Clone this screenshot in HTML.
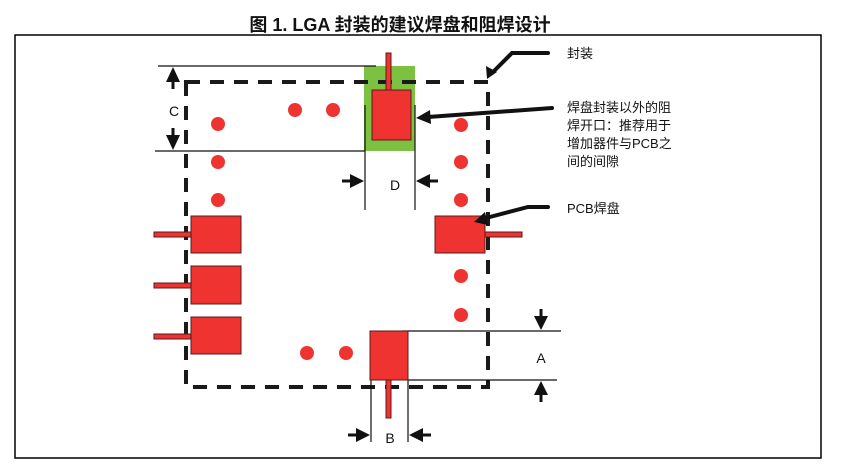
<!DOCTYPE html>
<html><head><meta charset="utf-8"><style>
html,body{margin:0;padding:0;background:#fff;}
svg{display:block;}
text{font-family:"Liberation Sans","Noto Sans CJK SC",sans-serif;}
</style></head><body>
<svg width="847" height="472" viewBox="0 0 847 472" xmlns="http://www.w3.org/2000/svg">
<text x="400" y="31" text-anchor="middle" font-size="18" font-weight="bold" fill="#111">图 1. LGA 封装的建议焊盘和阻焊设计</text>
<rect x="15" y="35" width="806" height="423" fill="none" stroke="#000" stroke-width="1.5"/>
<rect x="364" y="66" width="51" height="85" fill="#7cc142"/>
<rect x="186" y="82" width="302" height="305" fill="none" stroke="#1a1a1a" stroke-width="4" stroke-dasharray="14,10"/>
<g stroke="#111" stroke-width="1.2">
<line x1="158" y1="66" x2="376" y2="66"/>
<line x1="155" y1="151" x2="365" y2="151"/>
<line x1="365" y1="105" x2="365" y2="210"/>
<line x1="415" y1="105" x2="415" y2="210"/>
<line x1="402" y1="331" x2="561" y2="331"/>
<line x1="408" y1="380" x2="557" y2="380"/>
<line x1="371" y1="380" x2="371" y2="442"/>
<line x1="408" y1="380" x2="408" y2="442"/>
</g>
<g fill="#111" stroke="#111" stroke-width="3">
<polygon points="173,67 166,82 180,82" stroke-width="0"/><line x1="173" y1="82" x2="173" y2="89"/>
<polygon points="173,150 166,135 180,135" stroke-width="0"/><line x1="173" y1="128" x2="173" y2="135"/>
<polygon points="364,181 350,174 350,188" stroke-width="0"/><line x1="342" y1="181" x2="350" y2="181"/>
<polygon points="416,181 430,174 430,188" stroke-width="0"/><line x1="430" y1="181" x2="438" y2="181"/>
<polygon points="541,330 534,316 548,316" stroke-width="0"/><line x1="541" y1="309" x2="541" y2="316"/>
<polygon points="541,381 534,395 548,395" stroke-width="0"/><line x1="541" y1="395" x2="541" y2="402"/>
<polygon points="370,435 356,428 356,442" stroke-width="0"/><line x1="348" y1="435" x2="356" y2="435"/>
<polygon points="409,435 423,428 423,442" stroke-width="0"/><line x1="423" y1="435" x2="431" y2="435"/>
</g>
<g font-size="14" fill="#111">
<text x="174" y="116" text-anchor="middle">C</text>
<text x="395" y="190" text-anchor="middle">D</text>
<text x="541" y="363" text-anchor="middle">A</text>
<text x="390" y="443" text-anchor="middle">B</text>
</g>
<g fill="#ee3330" stroke="#5a1a1a" stroke-width="1">
<rect x="154" y="232" width="37" height="5"/>
<rect x="154" y="283" width="37" height="5"/>
<rect x="154" y="334" width="37" height="5"/>
<rect x="191" y="216" width="50" height="37"/>
<rect x="191" y="266" width="50" height="38"/>
<rect x="191" y="317" width="50" height="37"/>
<rect x="485" y="232" width="37" height="5"/>
<rect x="435" y="216" width="50" height="37"/>
<rect x="386" y="53" width="5" height="37"/>
<rect x="372" y="90" width="39" height="50"/>
<rect x="386" y="380" width="5" height="38"/>
<rect x="370" y="331" width="38" height="49"/>
</g>
<g fill="#ee3330">
<circle cx="295" cy="110" r="7"/><circle cx="333" cy="110" r="7"/>
<circle cx="218" cy="124" r="7"/><circle cx="218" cy="162" r="7"/><circle cx="218" cy="200" r="7"/>
<circle cx="461" cy="125" r="7"/><circle cx="461" cy="162" r="7"/><circle cx="461" cy="200" r="7"/>
<circle cx="461" cy="276" r="7"/><circle cx="461" cy="315" r="7"/>
<circle cx="307" cy="353" r="7"/><circle cx="346" cy="353" r="7"/>
</g>
<g stroke="#111" stroke-width="4" fill="none" stroke-linecap="round">
<polyline points="548,53 512,53 492,73"/>
<polyline points="552,108 428,117"/>
<polyline points="548,207 528,207 486,218"/>
</g>
<g fill="#111">
<polygon points="487,79 486,66 497,72"/>
<polygon points="416,118 430,110 431,124"/>
<polygon points="474,222 485,212 488,225"/>
</g>
<g font-size="13" fill="#111">
<text x="567" y="58">封装</text>
<text x="567" y="112">焊盘封装以外的阻</text>
<text x="567" y="130">焊开口：推荐用于</text>
<text x="567" y="148">增加器件与PCB之</text>
<text x="567" y="166">间的间隙</text>
<text x="567" y="213">PCB焊盘</text>
</g>
</svg>
</body></html>
